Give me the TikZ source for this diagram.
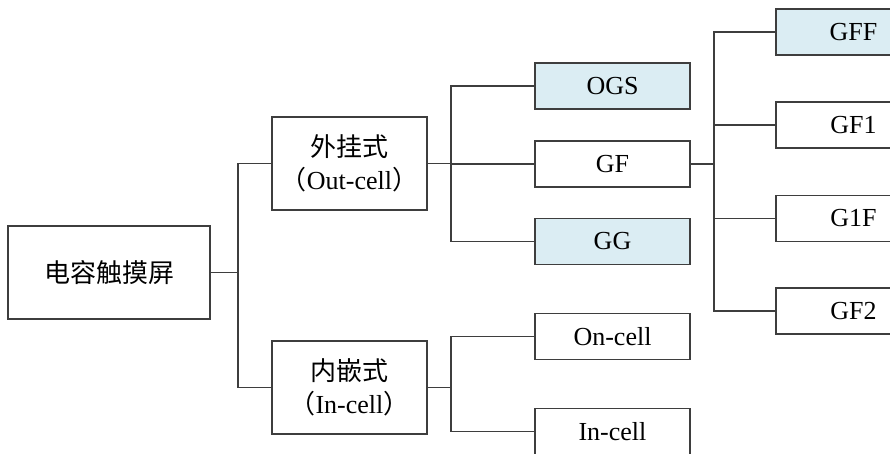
\documentclass[tikz,border=0pt]{standalone}
\usepackage{fontspec}
\setmainfont{Liberation Serif}
\newfontfamily\cjk{Noto Sans CJK SC}
\usepackage{xcolor}
\usepackage{tikz}
\usetikzlibrary{positioning}
\definecolor{TsLine}{RGB}{62,62,62}
\definecolor{TsFill}{RGB}{219,237,243}

\begin{document}
\begin{tikzpicture}[
  x=1pt, y=-1pt,
  font=\fontsize{26}{33}\selectfont,
  box/.style={draw=TsLine, line width=1.5pt, align=center, inner sep=0pt,
    minimum width=155pt, minimum height=93pt, fill=white},
  leaf/.style={box, minimum height=46pt},
  hit/.style={leaf, fill=TsFill},
  link/.style={draw=TsLine, line width=1.8pt},
]
  \useasboundingbox (0,0) rectangle (890,454);
  \clip (0,0) rectangle (890,454);

  % root and its two kinds
  \node[box, minimum width=202pt] (root) at (109,272.5) {\cjk 电容触摸屏};
  \node[box] (outcell) at (349.5,163.5) {{\cjk 外挂式}\\{\cjk （}Out-cell{\cjk ）}};
  \node[box] (incell) at (349.5,387.5) {{\cjk 内嵌式}\\{\cjk （}In-cell{\cjk ）}};

  % out-cell family
  \node[hit] (ogs) at (612.5,86) {OGS};
  \node[leaf] (gf) at (612.5,164) {GF};
  \node[hit] (gg) at (612.5,241.5) {GG};

  % in-cell family
  \node[leaf] (oncell) at (612.5,336.5) {On-cell};
  \node[leaf] (incellb) at (612.5,431.5) {In-cell};

  % GF variants (cut off at the right edge)
  \node[hit] (gff) at (853.5,32) {GFF};
  \node[leaf] (gfone) at (853.5,125) {GF1};
  \node[leaf] (gonef) at (853.5,218.5) {G1F};
  \node[leaf] (gftwo) at (853.5,311) {GF2};

  % connectors
  \foreach \to in {outcell, incell}
    \draw[link] (root.east) -- ++(27,0) |- (\to.west);
  \foreach \to in {ogs, gf, gg}
    \draw[link] (outcell.east) -- ++(23,0) |- (\to.west);
  \foreach \to in {oncell, incellb}
    \draw[link] (incell.east) -- ++(23,0) |- (\to.west);
  \foreach \to in {gff, gfone, gonef, gftwo}
    \draw[link] (gf.east) -- ++(23,0) |- (\to.west);
\end{tikzpicture}
\end{document}
